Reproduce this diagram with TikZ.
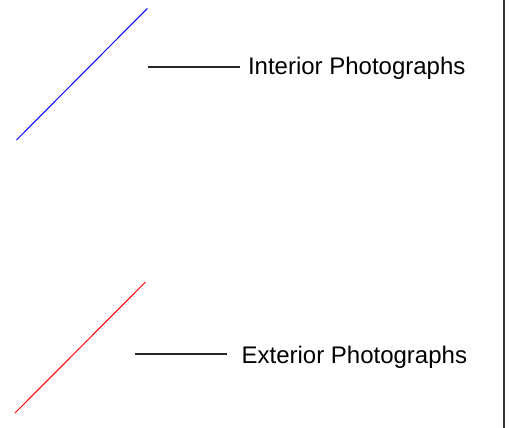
\documentclass[tikz,border=0pt]{standalone}
\usepackage{fontspec}
\setmainfont{Liberation Sans}
\begin{document}
\begin{tikzpicture}[x=1pt,y=-1pt,
  lbl/.style={anchor=base west,inner sep=0pt,font=\fontsize{24}{28}\selectfont},
  leader/.style={draw=black!85,line width=1.1pt},
  sample/.style={line width=1pt}]
\useasboundingbox (0,0) rectangle (509,428);
\fill[white] (0,0) rectangle (509,428);
% right border
\coordinate (bt) at (504,0);
\coordinate (bb) at (504,428);
\draw[line width=1.6pt,black!80] (bt) -- (bb);
% interior
\coordinate (b1) at (16.5,140);
\coordinate (b2) at (147.3,8.5);
\draw[sample,blue] (b1) -- (b2);
\coordinate (l1a) at (148,67);
\coordinate (l1b) at (240,67);
\draw[leader] (l1a) -- (l1b);
\node[lbl] (t1) at (247.8,75) {Interior Photographs};
% exterior
\coordinate (r1) at (15,413);
\coordinate (r2) at (145.5,282);
\draw[sample,red] (r1) -- (r2);
\coordinate (l2a) at (135,354);
\coordinate (l2b) at (227,354);
\draw[leader] (l2a) -- (l2b);
\node[lbl] (t2) at (241.4,363) {Exterior Photographs};
\end{tikzpicture}
\end{document}
